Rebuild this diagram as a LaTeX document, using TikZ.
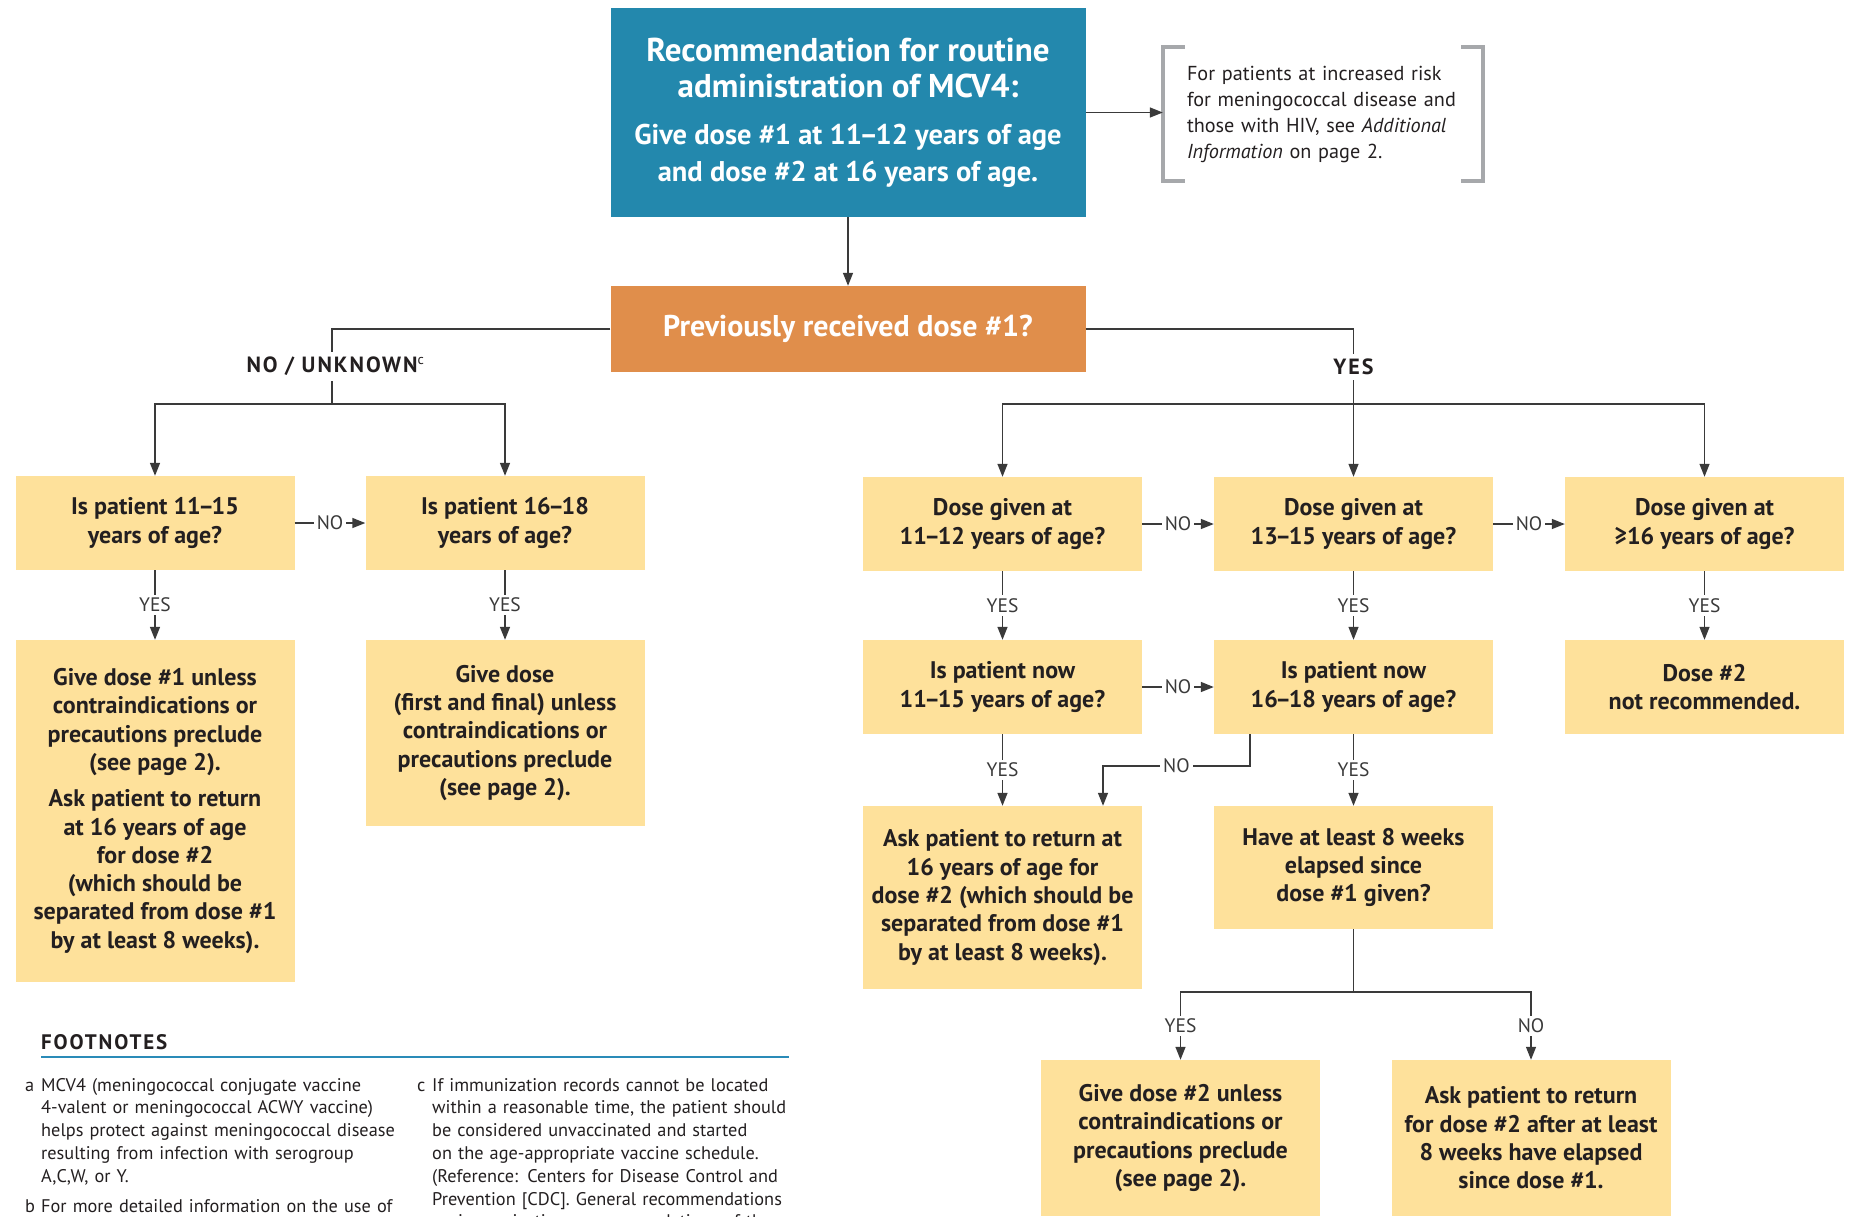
\documentclass[tikz,border=0pt]{standalone}
\usepackage{fontspec}
\setmainfont{PT Sans}
\newfontfamily\spacedfont{PT Sans}[LetterSpace=9]
\usepackage{tikz}
\usetikzlibrary{arrows.meta}
\usetikzlibrary{positioning}

\definecolor{recblue}{HTML}{2388AD}
\definecolor{askorange}{HTML}{E08E4B}
\definecolor{boxyellow}{HTML}{FEE19B}
\definecolor{linegray}{HTML}{3A3A3A}
\definecolor{bracketgray}{HTML}{A6A8AB}
\definecolor{fnblue}{HTML}{2A8BB8}
\definecolor{inkdark}{HTML}{231F20}

% tight age range dash
\newcommand{\rng}{\kern-2.5pt--\kern-2.5pt}
% smaller text for the lower lines of the top box
\newcommand{\recbody}{\fontsize{28.5}{36.6}\selectfont}

\tikzset{
    flow/.style={draw=linegray, line width=1.4pt},
    recbox/.style={fill=recblue, text=white, align=center, inner sep=0pt,
        minimum width=475pt, minimum height=209pt,
        font=\bfseries\fontsize{33}{36.6}\selectfont},
    askbox/.style={fill=askorange, text=white, inner sep=0pt,
        minimum width=475pt, minimum height=86pt,
        font=\bfseries\fontsize{30}{34}\selectfont},
    ybox/.style={fill=boxyellow, text=inkdark, align=center, inner sep=0pt,
        minimum width=279pt, minimum height=94pt,
        font=\bfseries\fontsize{24}{28.3}\selectfont},
    riskbox/.style={text=inkdark, align=left, text width=272pt, inner xsep=24pt,
        minimum height=134pt, font=\fontsize{20.2}{26}\selectfont},
    bracket/.style={draw=bracketgray, line width=4pt},
    yn/.style={fill=white, text=linegray, inner sep=3pt,
        font=\fontsize{19.5}{22}\selectfont},
    branch/.style={fill=white, text=inkdark, inner sep=5pt,
        font=\spacedfont\bfseries\fontsize{22}{26}\selectfont},
    fnhead/.style={text=inkdark, inner sep=0pt,
        font=\spacedfont\bfseries\fontsize{21}{24}\selectfont},
    fnote/.style={text=inkdark, align=left, inner sep=0pt,
        font=\fontsize{18.3}{22.8}\selectfont},
}
\tikzset{>={Triangle[length=13pt,width=10pt]}}

\begin{document}
\begin{tikzpicture}[x=1pt, y=-1pt]
\useasboundingbox (0,0) rectangle (1851,1216);

%TOP
\node [recbox] (rec) at (848,112.5) {Recommendation for routine\\administration of MCV4:\\[10pt]\recbody Give dose \#1 at 11\rng12 years of age\\\recbody and dose \#2 at 16 years of age.};
\node [riskbox] (risk) at (1323,114) {For patients at increased risk\\for meningococcal disease and\\those with HIV, see \textit{Additional}\\\textit{Information} on page 2.};
	\draw [bracket] ([xshift=22pt]risk.north west) -- (risk.north west) -- (risk.south west) -- ([xshift=22pt]risk.south west);
	\draw [bracket] ([xshift=-22pt]risk.north east) -- (risk.north east) -- (risk.south east) -- ([xshift=-22pt]risk.south east);
\draw [flow,->] (rec.east) -- (rec.east -| risk.west);

\node [askbox] (prev) at (848,329) {Previously received dose \#1?};
\draw [flow,->] (rec.south) -- (prev.north);

%NO / UNKNOWN SIDE
\coordinate (nosplit) at (332,404);
\draw [flow] (prev.west) -| node[branch,pos=0.75] {NO / UNKNOWN\rlap{\normalfont\fontsize{14}{14}\selectfont\raisebox{8pt}{c}}} (nosplit);
\node [ybox] (age1115) at (155,523) {Is patient 11\rng15\\years of age?};
\node [ybox] (age1618) at (505,523) {Is patient 16\rng18\\years of age?};
\node [ybox, minimum height=342pt] (give1) at (155,811) {Give dose \#1 unless\\contraindications or\\precautions preclude\\(see page 2).\\[8pt]Ask patient to return\\at 16 years of age\\for dose \#2\\(which should be\\separated from dose \#1\\by at least 8 weeks).};
\node [ybox, minimum height=186pt] (give2) at (505,733) {Give dose\\(first and final) unless\\contraindications or\\precautions preclude\\(see page 2).};
\draw [flow,->] (nosplit) -| (age1115.north);
\draw [flow,->] (nosplit) -| (age1618.north);
\draw [flow,->] (age1115) -- node[yn] {NO} (age1618);
\draw [flow,->] (age1115) -- node[yn] {YES} (give1);
\draw [flow,->] (age1618) -- node[yn] {YES} (give2);

%YES SIDE
\coordinate (yessplit) at (1353.5,404);
\draw [flow] (prev.east) -| node[branch,pos=0.75] {YES} (yessplit);
\node [ybox] (dose1112) at (1002.5,524) {Dose given at\\11\rng12 years of age?};
\node [ybox] (dose1315) at (1353.5,524) {Dose given at\\13\rng15 years of age?};
\node [ybox] (dose16) at (1704.5,524) {Dose given at\\≥16 years of age?};
\draw [flow,->] (yessplit) -| (dose1112.north);
\draw [flow,->] (yessplit) -- (dose1315.north);
\draw [flow,->] (yessplit) -| (dose16.north);
\draw [flow,->] (dose1112) -- node[yn] {NO} (dose1315);
\draw [flow,->] (dose1315) -- node[yn] {NO} (dose16);

\node [ybox] (now1115) at (1002.5,687) {Is patient now\\11\rng15 years of age?};
\node [ybox] (now1618) at (1353.5,687) {Is patient now\\16\rng18 years of age?};
\node [ybox] (notrec) at (1704.5,687) {Dose \#2\\not recommended.};
\draw [flow,->] (dose1112) -- node[yn] {YES} (now1115);
\draw [flow,->] (dose1315) -- node[yn] {YES} (now1618);
\draw [flow,->] (dose16) -- node[yn] {YES} (notrec);
\draw [flow,->] (now1115) -- node[yn] {NO} (now1618);

\node [ybox, minimum height=183pt] (return16) at (1002.5,897.5) {Ask patient to return at\\16 years of age for\\dose \#2 (which should be\\separated from dose \#1\\by at least 8 weeks).};
\node [ybox, minimum height=123pt] (weeks8) at (1353.5,867.5) {Have at least 8 weeks\\elapsed since\\dose \#1 given?};
\coordinate (nobend) at (1103,766);
\draw [flow,->] (now1115) -- node[yn] {YES} (return16);
\draw [flow,->] (now1618) -- node[yn] {YES} (weeks8);
\draw [flow,->] ([xshift=36pt]now1618.south west) |- node[yn,pos=0.75] {NO} (nobend) -- (nobend |- return16.north);

%8 WEEKS
\coordinate (weeksplit) at (1353.5,992);
\node [ybox, minimum height=156pt] (give3) at (1180.5,1138) {Give dose \#2 unless\\contraindications or\\precautions preclude\\(see page 2).};
\node [ybox, minimum height=156pt] (return8) at (1531,1138) {Ask patient to return\\for dose \#2 after at least\\8 weeks have elapsed\\since dose \#1.};
\draw [flow] (weeks8.south) -- (weeksplit);
\draw [flow,->] (weeksplit) -| node[yn,pos=0.75] {YES} (give3.north);
\draw [flow,->] (weeksplit) -| node[yn,pos=0.75] {NO} (return8.north);

%FOOTNOTES
\node [fnhead, anchor=west] (fnhd) at (41,1042) {FOOTNOTES};
\draw [draw=fnblue, line width=1.4pt] (41,1057) -- (789,1057);
\node [fnote, anchor=base west] (fnaL) at (25,1091) {a};
\node [fnote, anchor=base west, text width=380pt] (fna) at (41,1091) {MCV4 (meningococcal conjugate vaccine\\4-valent or meningococcal ACWY vaccine)\\helps protect against meningococcal disease\\resulting from infection with serogroup\\A,C,W, or Y.};
\node [fnote, anchor=base west] (fnbL) at (25,1212) {b};
\node [fnote, anchor=base west, text width=380pt] (fnb) at (41,1212) {For more detailed information on the use of};
\node [fnote, anchor=base west] (fncL) at (417,1091) {c};
\node [fnote, anchor=base west, text width=380pt] (fnc) at (432,1091) {If immunization records cannot be located\\within a reasonable time, the patient should\\be considered unvaccinated and started\\on the age-appropriate vaccine schedule.\\(Reference: Centers for Disease Control and\\Prevention [CDC]. General recommendations\\on immunization: recommendations of the};
\end{tikzpicture}
\end{document}
